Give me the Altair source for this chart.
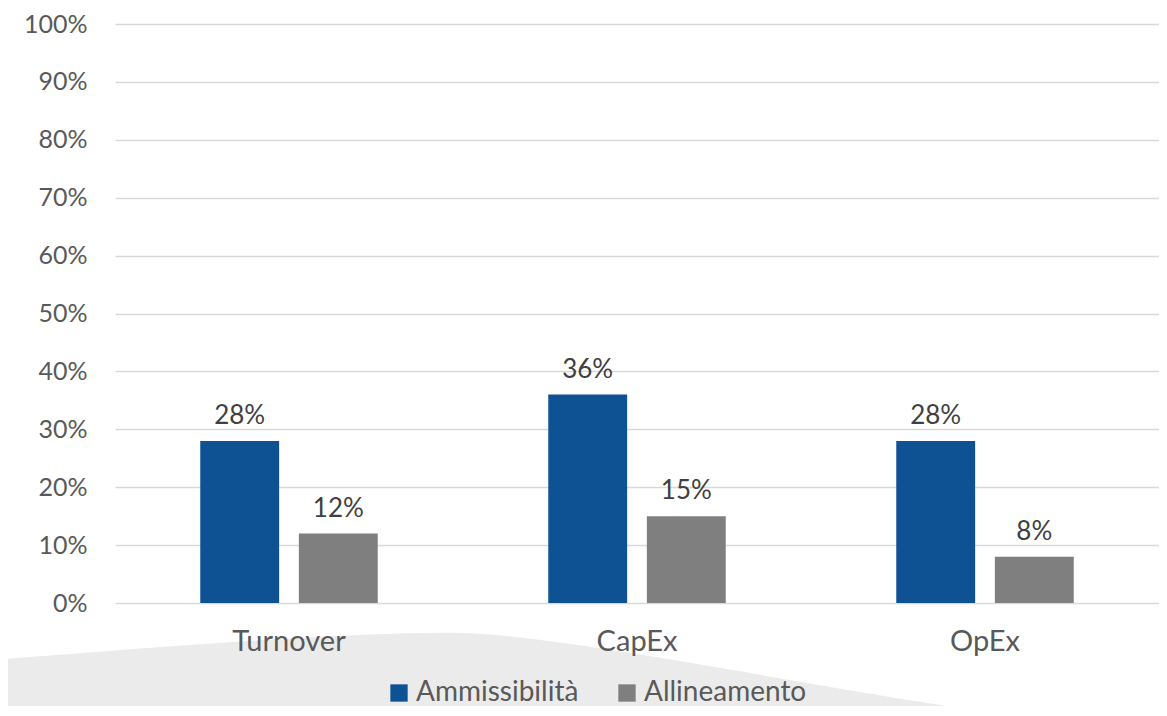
import altair as alt
import pandas as pd

categories = ["Turnover", "CapEx", "OpEx"]
series_names = ["Ammissibilità", "Allineamento"]
ammissibilita = [0.28, 0.36, 0.28]
allineamento = [0.12, 0.15, 0.08]
y_ticks = [0, 0.1, 0.2, 0.3, 0.4, 0.5, 0.6, 0.7, 0.8, 0.9, 1.0]
colors = ["#0F5294", "#7F7F7F"]

rows = []
for c, a, b in zip(categories, ammissibilita, allineamento):
    rows.append({"cat": c, "serie": series_names[0], "val": a})
    rows.append({"cat": c, "serie": series_names[1], "val": b})
df = pd.DataFrame(rows)

FONT = "Lato"

# decorative light-grey backdrop shape at the bottom
shape_path = ("M-1,-0.065 C-0.7167,-0.0867 -0.4167,-0.112 -0.2167,-0.112 "
              "C-0.0333,-0.112 0.4,-0.0167 0.7283,0.0267 "
              "L1,0.075 L1,0.3 L-1,0.3 Z")
backdrop = alt.Chart(pd.DataFrame({"d": [0]})).mark_point(
    shape=shape_path, size=1440000, filled=True, color="#EBEBEB",
    opacity=1, strokeWidth=0
).encode(x=alt.value(465), y=alt.value(676))

x_enc = alt.X("cat:N", sort=categories, title=None,
              scale=alt.Scale(paddingInner=0.49, paddingOuter=0.245),
              axis=alt.Axis(labelFontSize=29, labelColor="#595959", labelFont=FONT,
                            labelPadding=24, ticks=False, domain=False, labelAngle=0,
                            zindex=1))
xo_enc = alt.XOffset("serie:N", sort=series_names,
                     scale=alt.Scale(paddingInner=0.2, paddingOuter=0))
y_enc = alt.Y("val:Q", stack=None, title=None,
              scale=alt.Scale(domain=[0, 1], nice=False),
              axis=alt.Axis(values=y_ticks, format=".0%", labelFontSize=25,
                            labelColor="#595959", labelFont=FONT, labelPadding=28,
                            ticks=False, domain=False, gridColor="#D9D9D9",
                            gridWidth=1.5))

bars = alt.Chart(df).mark_bar().encode(
    x=x_enc, xOffset=xo_enc, y=y_enc,
    color=alt.Color("serie:N", sort=series_names,
                    scale=alt.Scale(domain=series_names, range=colors),
                    legend=alt.Legend(orient="none", legendX=270, legendY=655,
                                      direction="horizontal", title=None,
                                      labelFontSize=28, labelColor="#595959",
                                      labelFont=FONT, labelLimit=1000,
                                      symbolType="square",
                                      symbolSize=300, symbolStrokeWidth=0,
                                      labelOffset=3, columnPadding=34, padding=0))
)

labels = alt.Chart(df).mark_text(
    baseline="alphabetic", dy=-17, fontSize=26, color="#404040", font=FONT
).encode(
    x=alt.X("cat:N", sort=categories),
    xOffset=alt.XOffset("serie:N", sort=series_names),
    y=alt.Y("val:Q", stack=None),
    text=alt.Text("val:Q", format=".0%")
)

chart = alt.layer(backdrop, bars, labels).properties(
    width=1044, height=579,
    autosize=alt.AutoSizeParams(type="none"),
    padding={"left": 107, "top": 16, "right": 0, "bottom": 103}
).configure_view(stroke=None)

chart.save("out.html", embed_options={"renderer": "svg", "actions": False})
